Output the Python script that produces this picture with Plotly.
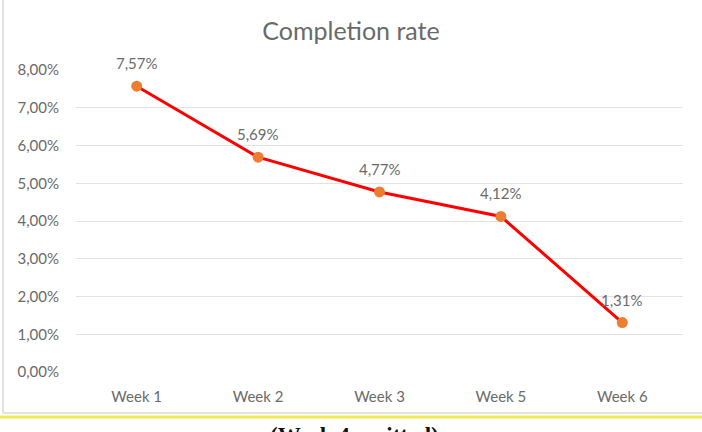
import plotly.graph_objects as go

weeks = ["Week 1", "Week 2", "Week 3", "Week 5", "Week 6"]
completion = [0.0757, 0.0569, 0.0477, 0.0412, 0.0131]
y_ticks = [0, 0.01, 0.02, 0.03, 0.04, 0.05, 0.06, 0.07, 0.08]

W, H = 702, 432
L, R, T, B = 76, 19, 70, 60
pw, ph = W - L - R, H - T - B

def px(x):
    return (x - L) / pw

def py(y):
    return (H - B - y) / ph

FONT = "Lato"
GRAY = "#6A6A6A"

fig = go.Figure()
fig.add_trace(go.Scatter(
    x=weeks, y=completion, mode="lines+markers",
    line=dict(color="#FF0000", width=3),
    marker=dict(color="#ED7D31", size=11),
    cliponaxis=False, hoverinfo="skip",
))

label_annotations = [
    dict(x=w, y=v, xref="x", yref="y", text=f"{v * 100:.2f}%".replace(".", ","),
         showarrow=False, xanchor="center", yanchor="bottom", yshift=12,
         font=dict(family=FONT, size=15, color=GRAY))
    for w, v in zip(weeks, completion)
]

fig.update_layout(
    width=W, height=H, margin=dict(l=L, r=R, t=T, b=B),
    paper_bgcolor="white", plot_bgcolor="white",
    separators=",.", showlegend=False,
    title=dict(text="Completion rate", x=0.5, xanchor="center", y=1 - 31 / H, yanchor="middle",
               font=dict(family=FONT, size=25, color=GRAY)),
    xaxis=dict(range=[-0.5, 4.5], showgrid=False, showline=False, zeroline=False, ticks="",
               tickfont=dict(family=FONT, size=15, color=GRAY), ticklabelstandoff=14),
    yaxis=dict(range=[0, 0.08], tickvals=y_ticks, tickformat=".2%",
               showgrid=True, gridcolor="#E3E3E3", gridwidth=1, zeroline=False,
               showline=False, ticks="", tickfont=dict(family=FONT, size=15, color=GRAY),
               ticklabelstandoff=16),
    shapes=[
        dict(type="line", xref="paper", yref="paper", x0=px(3), x1=px(3), y0=py(0), y1=py(413),
             line=dict(color="#D9D9D9", width=1.5)),
        dict(type="line", xref="paper", yref="paper", x0=px(3), x1=px(702), y0=py(413), y1=py(413),
             line=dict(color="#D9D9D9", width=1.5)),
        dict(type="line", xref="paper", yref="paper", x0=px(0), x1=px(702), y0=py(417), y1=py(417),
             line=dict(color="#F2EA55", width=3)),
    ],
    annotations=label_annotations + [
        dict(text="<b>(Week 4 omitted)</b>", xref="paper", yref="paper", x=px(354), y=py(421),
             xanchor="center", yanchor="top", showarrow=False,
             font=dict(family="Liberation Serif", size=23, color="#111111")),
    ],
)

fig.write_html("out.html")
